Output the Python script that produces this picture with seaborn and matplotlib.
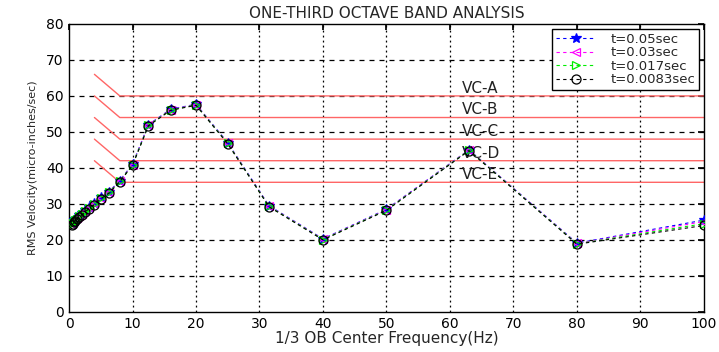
import numpy as np
import pandas as pd
import matplotlib
matplotlib.use("Agg")
import matplotlib.pyplot as plt
import seaborn as sns

freq = [0.5, 0.63, 0.8, 1, 1.25, 1.6, 2, 2.5, 3.15, 4, 5, 6.3, 8, 10,
        12.5, 16, 20, 25, 31.5, 40, 50, 63, 80, 100]
v_005 = [24.6, 25.0, 25.4, 25.8, 26.2, 26.8, 27.4, 28.2, 29.2, 30.3, 31.8, 33.4, 36.5, 41.0,
         52.0, 56.3, 57.7, 47.0, 29.5, 20.3, 28.5, 45.0, 19.1, 25.5]
v_003 = [24.5, 24.9, 25.3, 25.7, 26.1, 26.7, 27.3, 28.1, 29.1, 30.2, 31.7, 33.3, 36.4, 40.9,
         51.9, 56.2, 57.6, 46.9, 29.4, 20.2, 28.4, 45.0, 19.0, 25.1]
v_0017 = [24.3, 24.7, 25.1, 25.5, 25.9, 26.5, 27.1, 27.9, 28.9, 30.0, 31.6, 33.2, 36.3, 40.8,
          51.8, 56.1, 57.5, 46.8, 29.3, 20.1, 28.3, 44.9, 18.9, 24.5]
v_00083 = [24.1, 24.5, 24.9, 25.3, 25.7, 26.3, 26.9, 27.7, 28.7, 29.8, 31.4, 33.0, 36.2, 40.7,
           51.7, 56.0, 57.4, 46.7, 29.2, 20.0, 28.2, 44.8, 18.8, 24.0]
series_labels = ["t=0.05sec", "t=0.03sec", "t=0.017sec", "t=0.0083sec"]

vc_names = ["VC-A", "VC-B", "VC-C", "VC-D", "VC-E"]
vc_levels = [60, 54, 48, 42, 36]

xticks = list(range(0, 101, 10))
yticks = list(range(0, 81, 10))

sns.set_theme(style="white")
plt.rcParams['font.family'] = ['DejaVu Sans']

fig = plt.figure(figsize=(7.19, 3.52), dpi=100)
ax = fig.add_axes([0.096, 0.114, 0.883, 0.818])

# VC criteria lines
for name, lev in zip(vc_names, vc_levels):
    df_vc = pd.DataFrame({"x": [4, 8, 100], "y": [lev + 6, lev, lev]})
    sns.lineplot(data=df_vc, x="x", y="y", ax=ax, color="#ff6666", lw=1.0,
                 sort=False, legend=False, zorder=2)
    ax.text(61.8, lev + 2.1, name, fontsize=11, color="#222222", ha="left", va="center", zorder=3)

styles = [
    dict(color="#0000ff", marker="*", markersize=7.5, mfc="#0000ff", mec="#0000ff"),
    dict(color="#ff00ff", marker="<", markersize=6, mfc="none", mec="#ff00ff"),
    dict(color="#00ee00", marker=">", markersize=6, mfc="none", mec="#00ee00"),
    dict(color="#000000", marker="o", markersize=6.5, mfc="none", mec="#000000"),
]
for vals, lab, st in zip([v_005, v_003, v_0017, v_00083], series_labels, styles):
    df = pd.DataFrame({"f": freq, "v": vals})
    sns.lineplot(data=df, x="f", y="v", ax=ax, label=lab, linestyle=(0, (3, 3)),
                 lw=0.8, zorder=4, markeredgewidth=0.9, **st)

ax.set_xlim(0, 100)
ax.set_ylim(0, 80)
ax.set_xticks(xticks)
ax.set_yticks(yticks)
ax.tick_params(direction="in", top=True, right=True, length=4, labelsize=10, colors="black",
               pad=4)
for sp in ax.spines.values():
    sp.set_color("black")
    sp.set_linewidth(1.0)
for t in xticks[1:-1]:
    ax.axvline(t, color="black", ls=(0, (1.5, 2.5)), lw=0.9, zorder=1)
for t in yticks[1:-1]:
    ax.axhline(t, color="black", ls=(0, (4, 4)), lw=0.9, zorder=1)

ax.set_title("ONE-THIRD OCTAVE BAND ANALYSIS", fontsize=11, pad=4)
ax.set_xlabel("1/3 OB Center Frequency(Hz)", fontsize=11, labelpad=0)
ax.set_ylabel("RMS Velocity(micro-inches/sec)", fontsize=8, labelpad=6)

leg = ax.legend(loc="upper right", fontsize=9.5, frameon=True, fancybox=False,
                edgecolor="black", framealpha=1, borderpad=0.3, labelspacing=0.05,
                handlelength=3.0, handletextpad=1.1, borderaxespad=0.35)
leg.get_frame().set_linewidth(1.0)

fig.savefig("out.png", dpi=100)
